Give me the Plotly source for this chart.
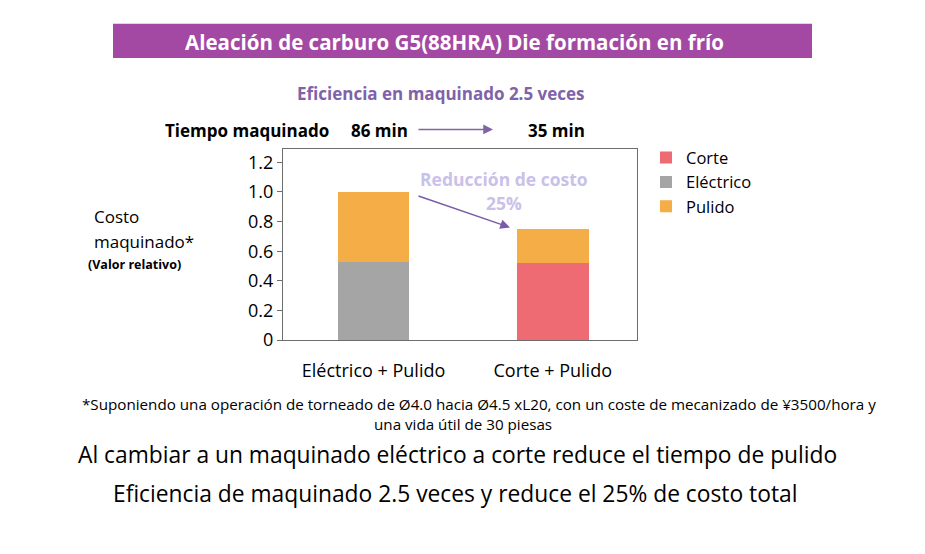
import plotly.graph_objects as go

categories = ["Eléctrico + Pulido", "Corte + Pulido"]
corte = [0, 0.52]
electrico = [0.53, 0]
pulido = [0.47, 0.23]
series_names = ["Corte", "Eléctrico", "Pulido"]
colors = ["#EE6B73", "#A5A5A5", "#F5AD47"]
y_ticks = [0, 0.2, 0.4, 0.6, 0.8, 1.0, 1.2]
y_tick_labels = ["0", "0.2", "0.4", "0.6", "0.8", "1.0", "1.2"]

OFF = 8  # page body margin
W, H = 925 - 2 * OFF, 554 - 2 * OFF
FONT = "Open Sans"

def px(x):
    return (x - OFF) / W

def py(y):
    return 1 - (y - OFF) / H

fig = go.Figure()
for name, vals, col in zip(series_names, [corte, electrico, pulido], colors):
    fig.add_trace(go.Bar(x=categories, y=vals, name=name, marker_color=col,
                         marker_line_width=0, width=0.4))

fig.update_layout(
    width=W, height=H, barmode="stack",
    margin=dict(l=0, r=0, t=0, b=0),
    paper_bgcolor="white", plot_bgcolor="white",
    font=dict(family=FONT, color="#000000"),
    showlegend=True,
    legend=dict(x=px(646), y=py(143), xanchor="left", yanchor="top",
                font=dict(size=16.5, family=FONT), traceorder="normal",
                itemwidth=30, tracegroupgap=0, bgcolor="rgba(0,0,0,0)"),
    xaxis=dict(domain=[px(283), px(637)], range=[-0.505, 1.47],
               showline=True, linecolor="#6E6E6E", linewidth=1, mirror=True,
               ticks="", tickfont=dict(size=18, family=FONT),
               ticklabelstandoff=14, fixedrange=True),
    yaxis=dict(domain=[py(347), py(152)], range=[0, 1.29],
               tickvals=y_ticks, ticktext=y_tick_labels,
               showline=True, linecolor="#6E6E6E", linewidth=1, mirror=True,
               showgrid=False, zeroline=False,
               ticks="outside", ticklen=5, tickcolor="#6E6E6E",
               tickfont=dict(size=18, family=FONT), fixedrange=True),
)

# Title banner
fig.add_shape(type="rect", xref="paper", yref="paper",
              x0=px(113), x1=px(812), y0=py(59), y1=py(24),
              fillcolor="#A349A4", line_width=0, layer="below")

def txt(x, y, s, size, color="#000000", bold=False, xanchor="center"):
    fig.add_annotation(x=px(x), y=py(y), xref="paper", yref="paper",
                       text=(f"<b>{s}</b>" if bold else s), showarrow=False,
                       xanchor=xanchor, yanchor="middle",
                       font=dict(size=size, color=color, family=FONT))

def arrow(x0, y0, x1, y1, color):
    fig.add_annotation(x=px(x1), y=py(y1), xref="paper", yref="paper",
                       ax=x0 - x1, ay=y0 - y1, axref="pixel", ayref="pixel",
                       text="", showarrow=True, arrowhead=2, arrowsize=1.3,
                       arrowwidth=1.5, arrowcolor=color)

txt(454, 43, "Aleación de carburo G5(88HRA) Die formación en frío", 20.5, "#FFFFFF", True)
txt(441, 95, "Eficiencia en maquinado 2.5 veces", 17, "#7E62AA", True)
txt(163, 133, "Tiempo maquinado", 17, "#000000", True, "left")
txt(349, 133, "86 min", 17, "#000000", True, "left")
txt(526, 133, "35 min", 17, "#000000", True, "left")

# Time arrow
arrow(417, 132, 493, 132, "#8064A8")

# Y-axis title
txt(92, 221, "Costo", 17, "#000000", False, "left")
txt(92, 246, "maquinado*", 17, "#000000", False, "left")
txt(86, 270, "(Valor relativo)", 12.5, "#000000", True, "left")

# Reduction annotation
txt(504, 183, "Reducción de costo", 17.5, "#C9C1EA", True)
txt(504, 207, "25%", 17.5, "#C9C1EA", True)
arrow(417, 200, 510, 232, "#7A5BA8")

# Footnote
txt(479, 412, "*Suponiendo una operación de torneado de Ø4.0 hacia Ø4.5 xL20, con un coste de mecanizado de ¥3500/hora y", 15.2)
txt(463, 433, "una vida útil de 30 piesas", 15.2)

# Conclusion lines
txt(457, 464, "Al cambiar a un maquinado eléctrico a corte reduce el tiempo de pulido", 22.8)
txt(455, 504, "Eficiencia de maquinado 2.5 veces y reduce el 25% de costo total", 22.8)

fig.write_html("out.html")
